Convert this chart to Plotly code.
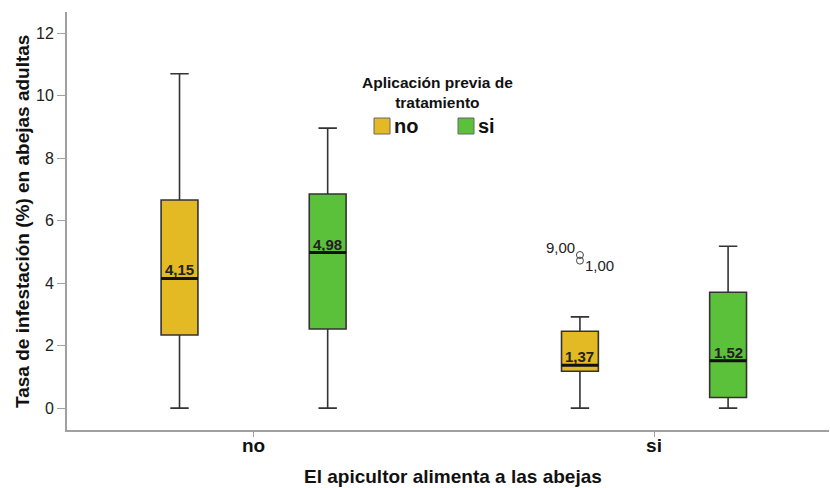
import plotly.graph_objects as go

# ---- data ----
feeding = ["no", "si"]                 # x categories: El apicultor alimenta a las abejas
treatments = ["no", "si"]              # legend: Aplicación previa de tratamiento
lower = {"no": [0.0, 0.0], "si": [0.0, 0.0]}      # per treatment, per feeding group
q1 = {"no": [2.34, 1.18], "si": [2.53, 0.34]}
median = {"no": [4.15, 1.37], "si": [4.98, 1.52]}
q3 = {"no": [6.66, 2.46], "si": [6.85, 3.71]}
upper = {"no": [10.7, 2.92], "si": [8.96, 5.18]}
median_labels = {"no": ["4,15", "1,37"], "si": ["4,98", "1,52"]}
outlier_values = [4.90, 4.72]          # feeding=si, treatment=no
outlier_labels = ["9,00", "1,00"]
y_ticks = [0, 2, 4, 6, 8, 10, 12]

# ---- style ----
colors = {"no": "#E3B924", "si": "#5CC13A"}
OFFSET = {"no": -0.185, "si": 0.185}
BOX_W = 0.092
FONT = "Liberation Sans, Arial, sans-serif"
L, R, T, B, W, H = 67, 1, 12, 58, 830, 488
PW, PH = W - L - R, H - T - B


def px(x):  # pixel -> paper x
    return (x - L) / PW


def py(y):  # pixel -> paper y
    return (H - B - y) / PH


fig = go.Figure()
annotations = []
shapes = []
for t in treatments:
    xs = [i + OFFSET[t] for i in range(len(feeding))]
    fig.add_trace(go.Box(
        x=xs, q1=q1[t], median=median[t], q3=q3[t],
        lowerfence=lower[t], upperfence=upper[t],
        width=BOX_W, whiskerwidth=0.5,
        fillcolor=colors[t], line=dict(color="#333333", width=1.6),
        boxpoints=False, showlegend=False, hoverinfo="skip",
    ))
    # thick median lines
    mx, my = [], []
    for x, m in zip(xs, median[t]):
        mx += [x - BOX_W / 2, x + BOX_W / 2, None]
        my += [m, m, None]
    fig.add_trace(go.Scatter(x=mx, y=my, mode="lines",
                             line=dict(color="#111", width=3),
                             showlegend=False, hoverinfo="skip"))
    for x, m, lab in zip(xs, median[t], median_labels[t]):
        annotations.append(dict(x=x, y=m, text=f"<b>{lab}</b>", showarrow=False,
                                xanchor="center", yanchor="bottom", yshift=-2,
                                font=dict(family=FONT, size=15, color="#222")))

# outliers (feeding = si, treatment = no)
ox = [feeding.index("si") + OFFSET["no"]] * len(outlier_values)
fig.add_trace(go.Scatter(x=ox, y=outlier_values, mode="markers",
                         marker=dict(symbol="circle-open", size=7, color="#444",
                                     line=dict(width=1)),
                         showlegend=False, hoverinfo="skip"))
annotations.append(dict(x=ox[0], y=outlier_values[0], text=outlier_labels[0],
                        showarrow=False, xanchor="right", yanchor="middle",
                        xshift=-3, yshift=8,
                        font=dict(family=FONT, size=15, color="#222")))
annotations.append(dict(x=ox[1], y=outlier_values[1], text=outlier_labels[1],
                        showarrow=False, xanchor="left", yanchor="middle",
                        xshift=3, yshift=-5,
                        font=dict(family=FONT, size=15, color="#222")))

# legend (title + swatches)
annotations.append(dict(xref="paper", yref="paper", x=px(437), y=py(93),
                        text="<b>Aplicación previa de<br>tratamiento</b>", align="center",
                        showarrow=False, xanchor="center", yanchor="middle",
                        font=dict(family=FONT, size=15.5, color="#111")))
for t, sx in zip(treatments, [374, 458]):
    shapes.append(dict(type="rect", xref="paper", yref="paper",
                       x0=px(sx), x1=px(sx + 16), y0=py(134), y1=py(118),
                       fillcolor=colors[t], line=dict(color="#666", width=1)))
    annotations.append(dict(xref="paper", yref="paper", x=px(sx + 18), y=py(126),
                            text=f"<b>{t}</b>", showarrow=False,
                            xanchor="left", yanchor="middle",
                            font=dict(family=FONT, size=20, color="#111")))

# axis titles
annotations.append(dict(xref="paper", yref="paper", x=px(453), y=py(476),
                        text="<b>El apicultor alimenta a las abejas</b>", showarrow=False,
                        xanchor="center", yanchor="middle",
                        font=dict(family=FONT, size=19, color="#111")))
annotations.append(dict(xref="paper", yref="paper", x=px(22), y=py(222),
                        text="<b>Tasa de infestación (%) en abejas adultas</b>",
                        showarrow=False, textangle=-90,
                        xanchor="center", yanchor="middle",
                        font=dict(family=FONT, size=19, color="#111")))

fig.update_layout(
    width=W, height=H,
    margin=dict(l=L, r=R, t=T, b=B, autoexpand=False),
    paper_bgcolor="white", plot_bgcolor="white",
    font=dict(family=FONT, color="#222"),
    annotations=annotations, shapes=shapes,
    showlegend=False,
    xaxis=dict(
        range=[-0.466, 1.437], tickvals=list(range(len(feeding))), ticktext=feeding,
        showgrid=False, zeroline=False, showline=True, linecolor="#a0a0a0", linewidth=2,
        ticks="outside", ticklen=5, tickcolor="#a0a0a0", automargin=False,
        ticklabelstandoff=-8,
        tickfont=dict(family=FONT, size=19, color="#111", weight="bold"),
    ),
    yaxis=dict(
        range=[-0.7, 12.676], tickvals=y_ticks,
        showgrid=False, zeroline=False, showline=True, linecolor="#a0a0a0", linewidth=2,
        ticks="outside", ticklen=8, tickcolor="#a0a0a0", automargin=False,
        tickfont=dict(family=FONT, size=16, color="#222"),
    ),
)

fig.write_html("out.html", config={"displayModeBar": False},
               post_script="document.body.style.margin='0';document.body.style.overflow='hidden';")
